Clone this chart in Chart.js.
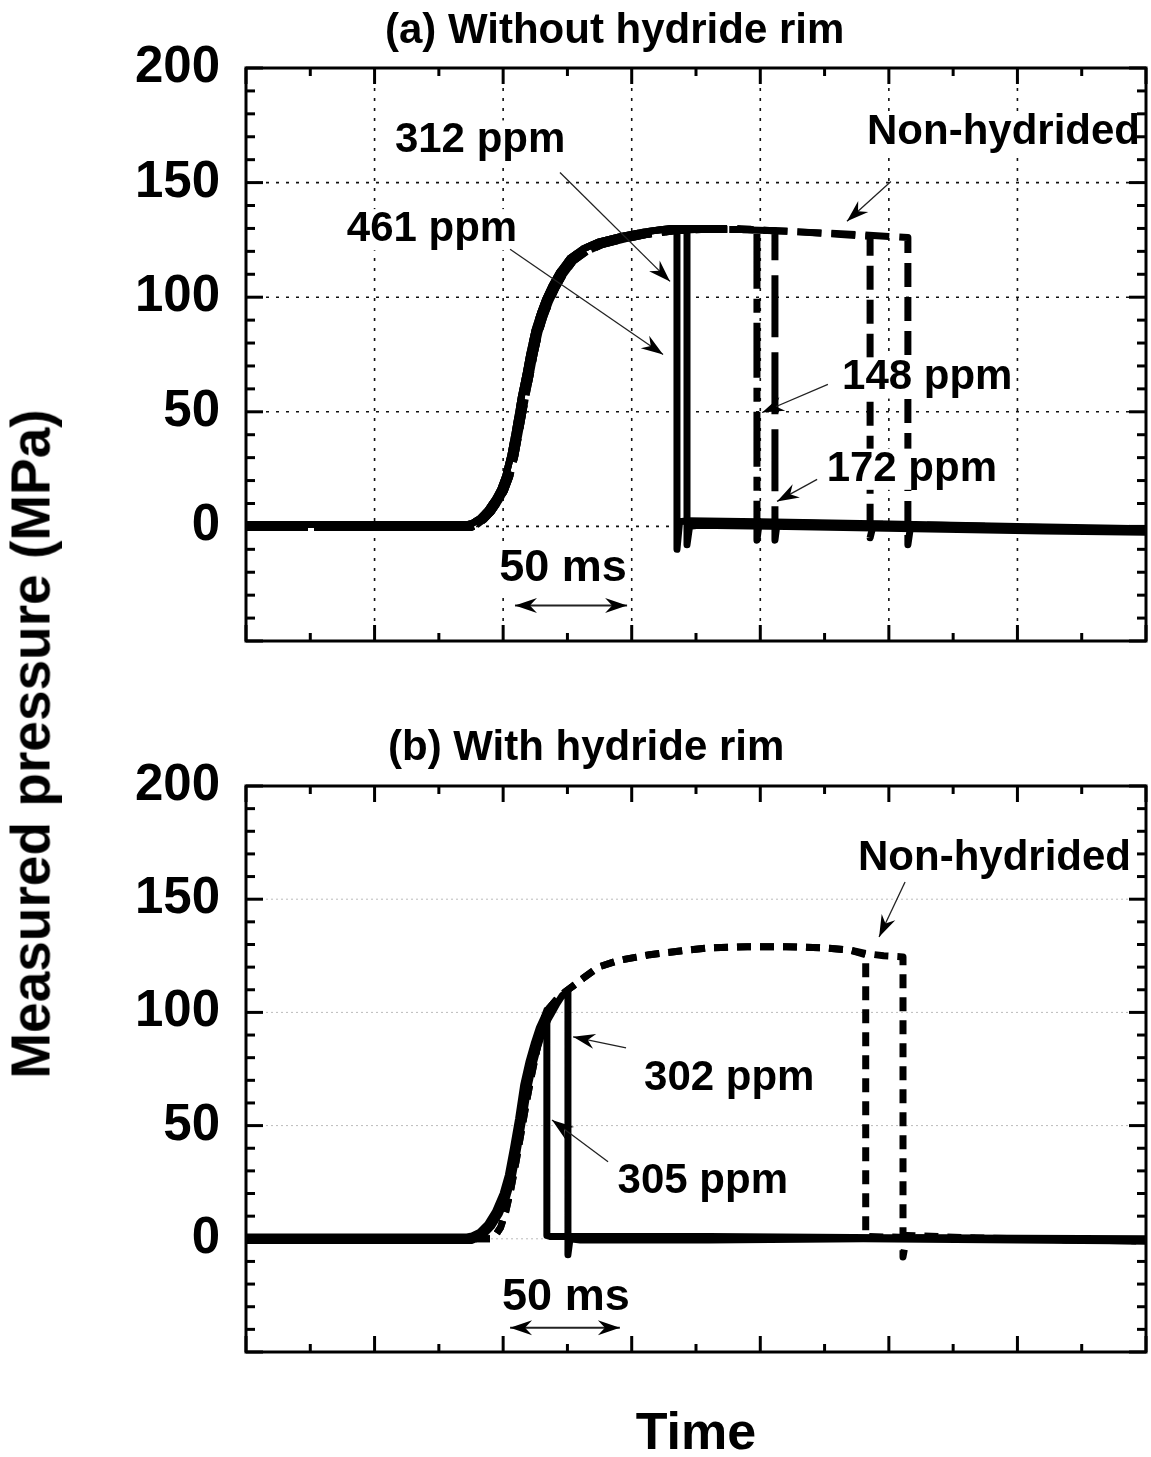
<!DOCTYPE html>
<html>
<head>
<meta charset="utf-8">
<script src="https://cdn.jsdelivr.net/npm/chart.js@4.4.0/dist/chart.umd.min.js"></script>
<style>
  body { margin: 0; background: #fff; width: 1151px; height: 1457px; position: relative; overflow: hidden; }
  canvas { position: absolute; left: 0; }
  #chartA { top: 0; }
  #chartB { top: 700px; }
  .lbl { position: absolute; white-space: nowrap; color: #000; font-family: "Liberation Sans", Arial, sans-serif; font-weight: bold; line-height: 1; }
  #titleA { left: 385px; top: 8px; font-size: 42px; }
  #titleB { left: 388px; top: 725px; font-size: 42px; }
  #xTitle { left: 246px; width: 900px; text-align: center; top: 1405px; font-size: 52px; }
  #yTitle { left: 31px; top: 744px; font-size: 55px; transform: translate(-50%, -50%) rotate(-90deg); }
</style>
</head>
<body>
<canvas id="chartA" width="1151" height="700"></canvas>
<canvas id="chartB" width="1151" height="757"></canvas>
<div class="lbl" id="titleA">(a) Without hydride rim</div>
<div class="lbl" id="titleB">(b) With hydride rim</div>
<div class="lbl" id="xTitle">Time</div>
<div class="lbl" id="yTitle">Measured pressure (MPa)</div>
<script>
// time in ms (one major division = 50 ms), pressure in MPa

// ---- panel (a): without hydride rim ----
const riseTimeA1 = [0, 40, 86, 88, 91, 94, 97, 99, 101, 103, 105, 107, 109, 110.5, 112.5, 114.5, 116.5, 119, 122, 126, 131, 137, 146, 155, 165];
const risePresA1 = [0.8, 0.8, 0.8, 1.3, 3.5, 7, 12, 16, 22, 31, 43, 56, 67, 76, 86, 93, 99, 105, 111, 117, 121, 124, 126.5, 128.5, 130];
const riseTimeA2 = [0, 40, 87.5, 89.5, 92.5, 95.5, 98.5, 100.5, 102.5, 104.5, 106.5, 108.5, 110.5, 112, 114, 116, 118, 120.5, 123.5, 127.5, 132.5, 138.5, 147.5, 156.5, 166.5];
const risePresA2 = [-0.5, -0.5, -0.5, 0.5, 3, 6.5, 11.5, 15.5, 21.5, 30.5, 42.5, 55, 66, 75, 85, 92, 98, 104, 110, 116, 120, 123, 125.5, 127.5, 129];

const tail461T = [167.6, 167.6, 168.6, 172, 200, 250, 300, 350];
const tail461P = [130, -10, 2, 2.5, 2, 1, 0, -1];
const tail312T = [168, 171.5, 171.5, 172.5, 176, 210, 260, 310, 350];
const tail312P = [130, 130, -8, 0, 0.5, 0, -1, -2, -2.5];
const tail148T = [175, 190, 198.7, 198.7, 199.5, 205, 240, 290, 350];
const tail148P = [130, 130, 129.5, -6, 1, 1.5, 0.5, -0.5, -2];
const tail172T = [175, 190, 205.7, 205.7, 206.5, 215, 250, 300, 350];
const tail172P = [129.5, 129.5, 129, -6, 1, 1.5, 0.5, -1, -1.5];
const tailNH1aT = [177, 195, 215, 230, 242.7, 242.7, 244, 270, 310, 350];
const tailNH1aP = [129.5, 129.5, 128.5, 127.5, 126.5, -5, 1, 0.5, -0.5, -1.5];
const tailNH2aT = [177, 195, 215, 235, 250, 257.4, 257.4, 258.5, 280, 320, 350];
const tailNH2aP = [129.5, 129.5, 128.5, 127.5, 126.5, 126, -8, 0.5, 0, -1, -2];

// ---- panel (b): with hydride rim ----
const riseTimeB1 = [0, 40, 86, 88, 91, 94, 97, 100, 102, 104, 106, 108, 110, 112, 114, 116];
const risePresB1 = [0.8, 0.8, 0.8, 1.3, 3, 6.5, 12, 20, 28, 40, 53, 68, 78, 86, 93, 98];
const riseTimeB2 = [0, 40, 87.5, 89.5, 92.5, 95.5, 98.5, 101.5, 103.5, 105.5, 107.5, 109.5, 111.5, 113.5, 115.5, 117.5];
const risePresB2 = [-0.8, -0.8, -0.8, 0, 2, 5.5, 11, 19, 27, 39, 52, 66, 76.5, 85, 92, 97];
const tail305T = [117, 117, 118.5, 121, 180, 250, 350];
const tail305P = [101, 1.5, 1, 1, 1, 0.5, 0];
const tail302T = [119, 121, 123, 125.2, 125.2, 126, 130, 180, 240, 300, 350];
const tail302P = [100, 104, 107.5, 109.5, -7, 0, -0.5, -0.5, 0, -0.5, -1];
const riseTimeNHb = [0, 40, 95, 97, 99, 101, 103, 105, 107, 109, 111, 113, 115.5, 118, 121, 124, 127, 131, 137, 145, 157, 168, 180, 195, 210, 225, 235];
const risePresNHb = [0, 0, 0, 1.5, 5, 12, 22, 34, 47, 60, 72, 83, 96, 102, 106, 109, 111.5, 115, 120, 123, 125.5, 127, 128.5, 129, 129, 128.5, 127.5];
const tailNH1bT = [241, 241, 242, 260, 300, 350];
const tailNH1bP = [125.5, 1.5, 1, 0.5, 0, -1];
const tailNH2bT = [241, 248, 255.5, 255.5, 257, 280, 320, 350];
const tailNH2bP = [126, 125, 124.5, -8, 1.5, 0.5, -0.5, -1];

const yTicks = [-50, 0, 50, 100, 150, 200];
const gridYA = [0, 50, 100, 150];
const gridXA = [50, 100, 150, 200, 250, 300];
const gridYB = [0, 50, 100, 150];

const FONT = '"Liberation Sans", Arial, sans-serif';

function pts(ts, ps) {
  return ts.map((t, i) => ({ x: t, y: ps[i] }));
}

function line(ctx, x1, y1, x2, y2) {
  ctx.beginPath();
  ctx.moveTo(x1, y1);
  ctx.lineTo(x2, y2);
  ctx.stroke();
}

function arrowHead(ctx, fx, fy, tx, ty, len, wid) {
  const ang = Math.atan2(ty - fy, tx - fx);
  ctx.save();
  ctx.translate(tx, ty);
  ctx.rotate(ang);
  ctx.beginPath();
  ctx.moveTo(0, 0);
  ctx.lineTo(-len, -wid / 2);
  ctx.lineTo(-len * 0.68, 0);
  ctx.lineTo(-len, wid / 2);
  ctx.closePath();
  ctx.fill();
  ctx.restore();
}

function labelFont(l) {
  return 'bold ' + (l.size || 42) + 'px ' + FONT;
}

const decor = {
  id: 'decor',
  beforeDatasetsDraw(chart, args, o) {
    const { ctx, chartArea: a, scales: { x, y } } = chart;
    ctx.save();
    ctx.strokeStyle = o.gridColor;
    ctx.lineWidth = o.gridWidth;
    ctx.setLineDash(o.gridDash);
    o.gridY.forEach(v => { const py = y.getPixelForValue(v); line(ctx, a.left, py, a.right, py); });
    o.gridX.forEach(v => { const px = x.getPixelForValue(v); line(ctx, px, a.top, px, a.bottom); });
    ctx.restore();
  },
  afterDatasetsDraw(chart, args, o) {
    const { ctx, chartArea: a, scales: { x, y } } = chart;
    ctx.save();
    // opaque label boxes knock the curves out, as in the original
    ctx.fillStyle = '#fff';
    o.labels.forEach(l => {
      ctx.font = labelFont(l);
      const w = ctx.measureText(l.text).width;
      const s = l.size || 42;
      let px = x.getPixelForValue(l.x);
      if (l.align === 'center') px -= w / 2;
      const py = y.getPixelForValue(l.y);
      ctx.fillRect(px - 2, py - 0.76 * s, w + 4, 0.98 * s);
    });
    ctx.strokeStyle = '#000';
    ctx.lineWidth = 3;
    for (let v = x.min; v <= x.max; v += 25) {
      const px = x.getPixelForValue(v);
      const len = v % 50 === 0 ? 16 : 8;
      line(ctx, px, a.bottom, px, a.bottom - len);
      line(ctx, px, a.top, px, a.top + len);
    }
    for (let v = y.min; v <= y.max; v += 10) {
      const py = y.getPixelForValue(v);
      const len = v % 50 === 0 ? 17 : 9;
      line(ctx, a.left, py, a.left + len, py);
      line(ctx, a.right, py, a.right - len, py);
    }
    ctx.strokeRect(a.left, a.top, a.right - a.left, a.bottom - a.top);
    ctx.restore();
  },
  afterDraw(chart, args, o) {
    const { ctx, scales: { x, y } } = chart;
    ctx.save();
    ctx.fillStyle = '#000';
    ctx.textBaseline = 'alphabetic';
    o.labels.forEach(l => {
      ctx.font = labelFont(l);
      ctx.textAlign = l.align || 'left';
      ctx.fillText(l.text, x.getPixelForValue(l.x), y.getPixelForValue(l.y));
    });
    o.arrows.forEach(ar => {
      const fx = x.getPixelForValue(ar.from[0]), fy = y.getPixelForValue(ar.from[1]);
      const tx = x.getPixelForValue(ar.to[0]), ty = y.getPixelForValue(ar.to[1]);
      ctx.strokeStyle = '#222';
      ctx.lineWidth = ar.both ? 2 : 1.3;
      line(ctx, fx, fy, tx, ty);
      arrowHead(ctx, fx, fy, tx, ty, 22, 15);
      if (ar.both) arrowHead(ctx, tx, ty, fx, fy, 22, 15);
    });
    ctx.restore();
  }
};

function series(ts, ps, width, dash) {
  return {
    data: pts(ts, ps),
    borderColor: '#000',
    borderWidth: width,
    borderDash: dash || [],
    borderJoinStyle: 'round',
    pointRadius: 0,
    fill: false,
    tension: 0
  };
}

function makeChart(id, datasets, padTop, xHeight, decorOpts) {
  return new Chart(document.getElementById(id), {
    type: 'line',
    data: { datasets: datasets },
    options: {
      responsive: false,
      animation: false,
      devicePixelRatio: 1,
      layout: { padding: { top: padTop, right: 5, left: 0, bottom: 0 } },
      plugins: { legend: { display: false }, tooltip: { enabled: false }, decor: decorOpts },
      scales: {
        x: {
          type: 'linear', min: 0, max: 350,
          ticks: { display: false },
          grid: { display: false, drawTicks: false },
          border: { display: false },
          afterFit: s => { s.height = xHeight; }
        },
        y: {
          type: 'linear', min: -50, max: 200,
          afterBuildTicks: s => { s.ticks = yTicks.map(v => ({ value: v })); },
          ticks: {
            color: '#000', padding: 26,
            font: { family: FONT, size: 51, weight: 'bold' },
            callback: v => (v < 0 ? '' : v)
          },
          grid: { display: false, drawTicks: false },
          border: { display: false },
          afterFit: s => { s.width = 246; }
        }
      }
    },
    plugins: [decor]
  });
}

makeChart('chartA', [
  series(riseTimeA2.concat(tailNH2aT), risePresA2.concat(tailNH2aP), 7, [24, 10]),
  series(riseTimeA2.concat(tailNH1aT), risePresA2.concat(tailNH1aP), 7, [24, 10]),
  series(riseTimeA2.concat(tail172T), risePresA2.concat(tail172P), 7, [62, 15]),
  series(riseTimeA1.concat(tail148T), risePresA1.concat(tail148P), 7, [55, 10, 14, 10]),
  series(riseTimeA1.concat(tail312T), risePresA1.concat(tail312P), 7),
  series(riseTimeA1.concat(tail461T), risePresA1.concat(tail461P), 7)
], 68, 59, {
  gridColor: '#111', gridWidth: 1.6, gridDash: [3, 7], gridY: gridYA, gridX: gridXA,
  labels: [
    { text: '312 ppm', x: 57.9, y: 163.2 },
    { text: '461 ppm', x: 39.2, y: 124.5 },
    { text: '148 ppm', x: 231.8, y: 59.8 },
    { text: '172 ppm', x: 225.8, y: 20 },
    { text: 'Non-hydrided', x: 241.5, y: 166.7 },
    { text: '50 ms', x: 123.3, y: -23.9, align: 'center', size: 45 }
  ],
  arrows: [
    { from: [122.1, 154.4], to: [164.9, 106.9] },
    { from: [102.7, 120.9], to: [162.2, 75.0] },
    { from: [226.3, 62], to: [200.7, 49.7] },
    { from: [222.1, 20.5], to: [206.5, 10.9] },
    { from: [250.8, 150.5], to: [233.7, 133.1] },
    { from: [104.6, -34.5], to: [148.2, -34.5], both: true }
  ]
});

makeChart('chartB', [
  series(riseTimeNHb.concat(tailNH2bT), risePresNHb.concat(tailNH2bP), 7, [14, 9]),
  series(riseTimeNHb.concat(tailNH1bT), risePresNHb.concat(tailNH1bP), 7, [14, 9]),
  series(riseTimeB2.concat(tail302T), risePresB2.concat(tail302P), 7),
  series(riseTimeB1.concat(tail305T), risePresB1.concat(tail305P), 7)
], 86, 105, {
  gridColor: '#bbb', gridWidth: 1, gridDash: [2, 3], gridY: gridYB, gridX: [],
  labels: [
    { text: 'Non-hydrided', x: 238, y: 162.9 },
    { text: '302 ppm', x: 154.8, y: 65.8 },
    { text: '305 ppm', x: 144.5, y: 20.3 },
    { text: '50 ms', x: 124.4, y: -31.3, align: 'center', size: 45 }
  ],
  arrows: [
    { from: [256.3, 157.6], to: [246.2, 133.3] },
    { from: [147.8, 84.3], to: [127.2, 89.2] },
    { from: [140.8, 34.0], to: [119.0, 52.5] },
    { from: [102.7, -39.3], to: [145.4, -39.3], both: true }
  ]
});
</script>
</body>
</html>
